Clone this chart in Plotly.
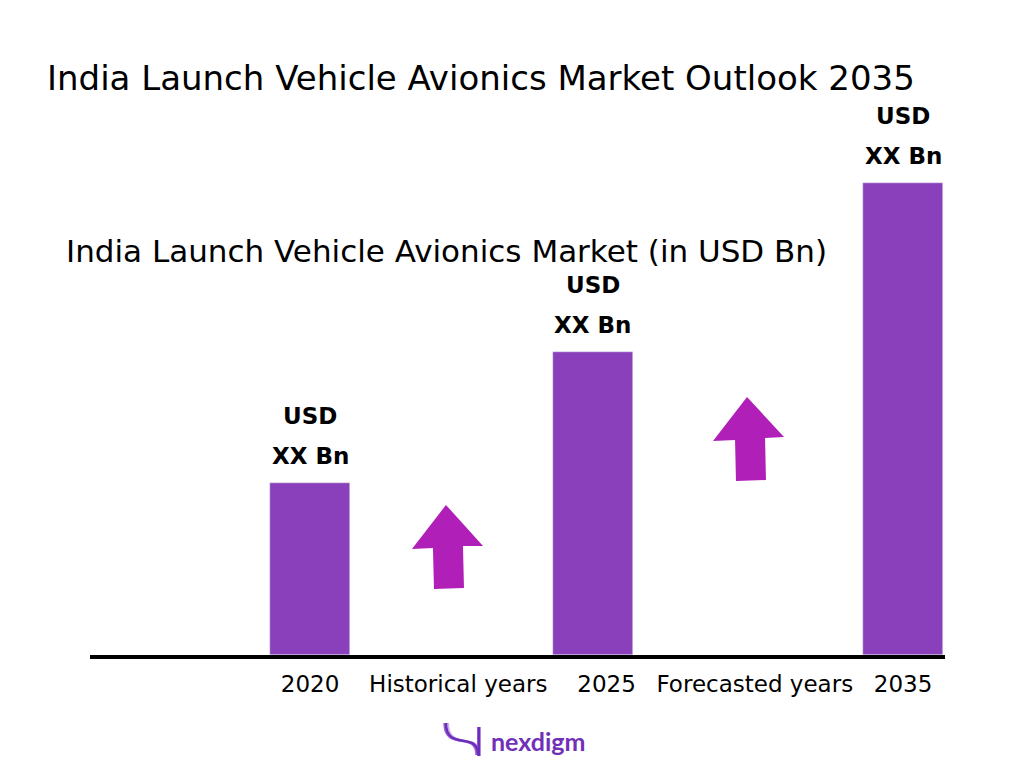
import plotly.graph_objects as go

# data
categories = ['2020', 'Historical years', '2025', 'Forecasted years', '2035']
values = [1.72, None, 3.03, None, 4.72]
label_top = ['USD', None, 'USD', None, 'USD']
label_bottom = ['XX Bn', None, 'XX Bn', None, 'XX Bn']

W, H = 1024, 768
OFF = 8  # the page puts the figure 8px in from the corner
BAR_COLOR = '#8A40BA'
ARROW_COLOR = '#B01FB8'
BAR_W = 0.54
UNIT = 148.25  # px per category step
nudge = [0, 0, -14, 0, 0]  # px, the source spaces its bars unevenly


def px(x, y):
    # screen pixel -> paper coords (margins are zero)
    return (x - OFF) / W, 1 - (y - OFF) / H


def path(points, close=True):
    s = ''
    for i, (x, y) in enumerate(points):
        a, b = px(x, y)
        s += ('M' if i == 0 else 'L') + f'{a:.4f},{b:.4f} '
    return s + ('Z' if close else '')


def curve(p0, c1, c2, p1):
    pts = [px(*p) for p in (p0, c1, c2, p1)]
    return (f'M{pts[0][0]:.4f},{pts[0][1]:.4f} C{pts[1][0]:.4f},{pts[1][1]:.4f} '
            f'{pts[2][0]:.4f},{pts[2][1]:.4f} {pts[3][0]:.4f},{pts[3][1]:.4f}')


fig = go.Figure()
fig.add_trace(go.Bar(
    x=categories,
    y=values,
    marker_color=BAR_COLOR,
    width=BAR_W,
    offset=[-BAR_W / 2 + n / UNIT for n in nudge],
    hoverinfo='skip',
    showlegend=False
))

for i, (v, t1, t2) in enumerate(zip(values, label_top, label_bottom)):
    if v is None:
        continue
    for txt, ys in ((t2, 12), (t1, 52)):
        fig.add_annotation(x=i, y=v, text=f'<b>{txt}</b>', showarrow=False,
                           yanchor='bottom', yshift=ys, xshift=nudge[i],
                           font=dict(family='DejaVu Sans', size=23, color='black'))

# up arrows between bars
arrow1 = [(446, 505), (483, 546), (463, 546), (464, 588), (434, 589), (433, 548), (412, 549)]
arrow2 = [(747, 397), (784, 437), (765, 438), (766, 480), (736, 481), (735, 440), (713, 441)]
shapes = []
for a in (arrow1, arrow2):
    shapes.append(dict(type='path', xref='paper', yref='paper', path=path(a),
                       fillcolor=ARROW_COLOR, line=dict(width=0)))

# logo mark
for dx, col, w in [(2, '#D2B0EE', 2), (-1.5, '#A060DA', 2.5), (0, '#6A2FB8', 2.5)]:
    shapes.append(dict(type='path', xref='paper', yref='paper',
                       path=curve((446 + dx, 723), (446 + dx, 752), (478 + dx, 730), (478 + dx, 755)),
                       line=dict(color=col, width=w)))
    shapes.append(dict(type='path', xref='paper', yref='paper',
                       path=path([(479 + dx * 0.5, 756), (479 + dx * 0.5, 727)], close=False),
                       line=dict(color=col, width=w)))

fig.add_annotation(xref='paper', yref='paper', x=px(489, 0)[0], y=px(0, 741)[1],
                   xanchor='left', yanchor='middle', showarrow=False,
                   text='<b>nexdigm</b>',
                   font=dict(family='Lato', size=25, color='#7030B8'))

fig.add_annotation(xref='paper', yref='paper', x=px(45, 0)[0], y=px(0, 78)[1],
                   xanchor='left', yanchor='middle', showarrow=False,
                   text='India Launch Vehicle Avionics Market Outlook 2035',
                   font=dict(family='DejaVu Sans', size=34, color='black'))
fig.add_annotation(xref='paper', yref='paper', x=px(64, 0)[0], y=px(0, 251)[1],
                   xanchor='left', yanchor='middle', showarrow=False,
                   text='India Launch Vehicle Avionics Market (in USD Bn)',
                   font=dict(family='DejaVu Sans', size=31, color='black'))

x0, y_top = px(90, 100)
x1, y_bot = px(945, 655)
fig.update_layout(
    width=W, height=H,
    margin=dict(l=0, r=0, t=0, b=0),
    paper_bgcolor='white', plot_bgcolor='white',
    shapes=shapes,
    xaxis=dict(type='category', domain=[x0, x1], range=[-1.484, 4.283], showgrid=False,
               showline=True, linecolor='black', linewidth=4,
               ticks='outside', ticklen=5, tickcolor='rgba(0,0,0,0)',
               tickfont=dict(family='DejaVu Sans', size=23, color='black'),
               fixedrange=True),
    yaxis=dict(domain=[y_bot, y_top], range=[0, 5.55], visible=False,
               showgrid=False, fixedrange=True),
    bargap=0,
)

fig.write_html('out.html')
